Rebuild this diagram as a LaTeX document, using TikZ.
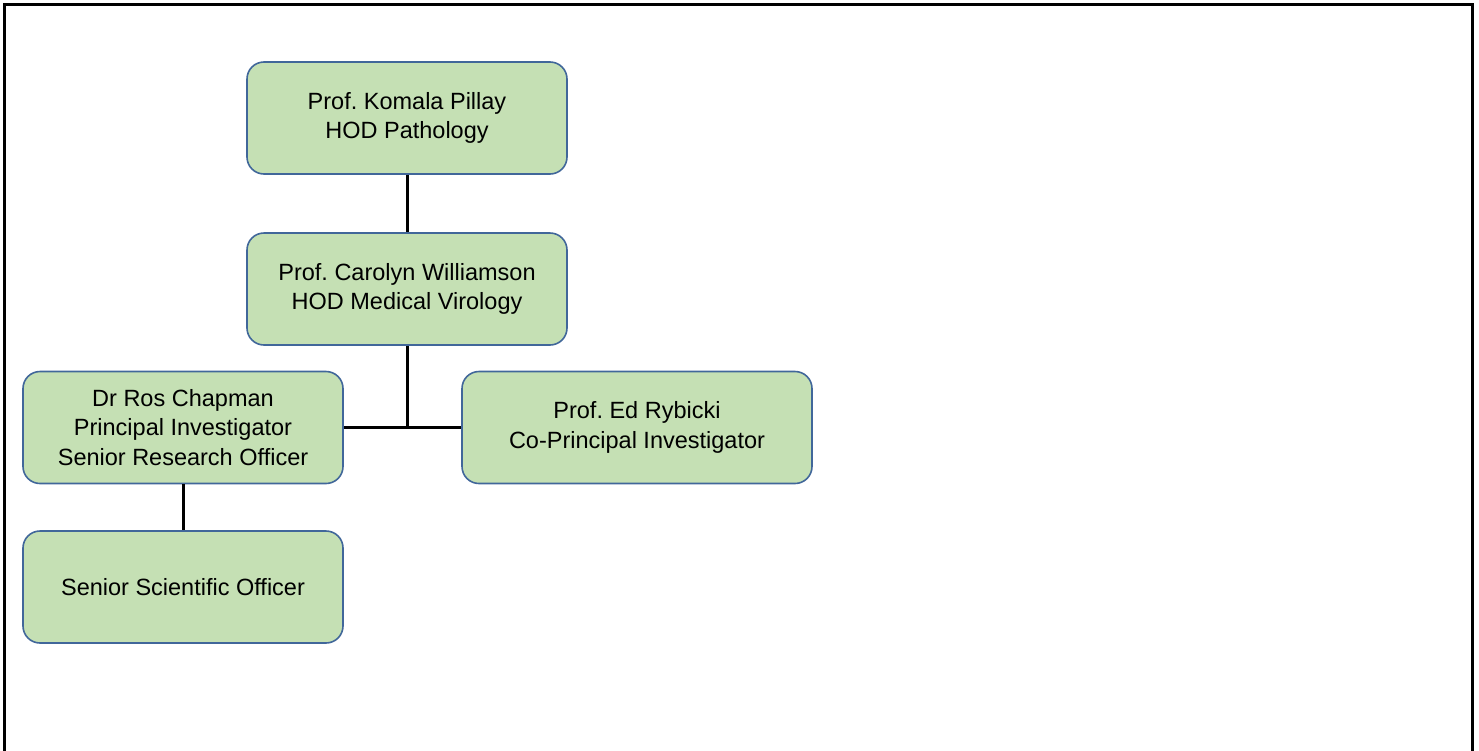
\documentclass[tikz,border=0pt]{standalone}
\usepackage{fontspec}
\setmainfont{Liberation Sans}
\frenchspacing
\definecolor{Fill}{HTML}{C5E0B4}
\definecolor{Edge}{HTML}{41679A}
\begin{document}
\begin{tikzpicture}[
 x=1pt,y=-1pt,
 b/.style={draw=Edge,line width=1.6pt,rounded corners=17pt,fill=Fill,minimum width=320pt,minimum height=112pt,align=center,font=\fontsize{23.5}{29.5}\selectfont,inner sep=0pt},
 l/.style={line width=3pt,draw=black}
]
\useasboundingbox (0,0) rectangle (1479,750);
\draw[line width=3pt] (4,752) -- (4,4) -- (1472,4) -- (1472,752);
\node[b] (pillay) at (407,118) {Prof. Komala Pillay\\HOD Pathology};
\node[b] (will) at (407,289) {Prof. Carolyn Williamson\\HOD Medical Virology};
\node[b] (chap) at (183,427.5) {Dr Ros Chapman\\Principal Investigator\\Senior Research Officer};
\node[b,minimum width=350pt] (ryb) at (637,427.5) {Prof. Ed Rybicki\\Co-Principal Investigator};
\node[b] (sso) at (183,587) {Senior Scientific Officer};
\coordinate (join) at (will.south |- chap.east);
\draw[l] (pillay)--(will);\draw[l] (will)--(join);\draw[l] (chap)--(ryb);\draw[l] (chap)--(sso);
\end{tikzpicture}
\end{document}
